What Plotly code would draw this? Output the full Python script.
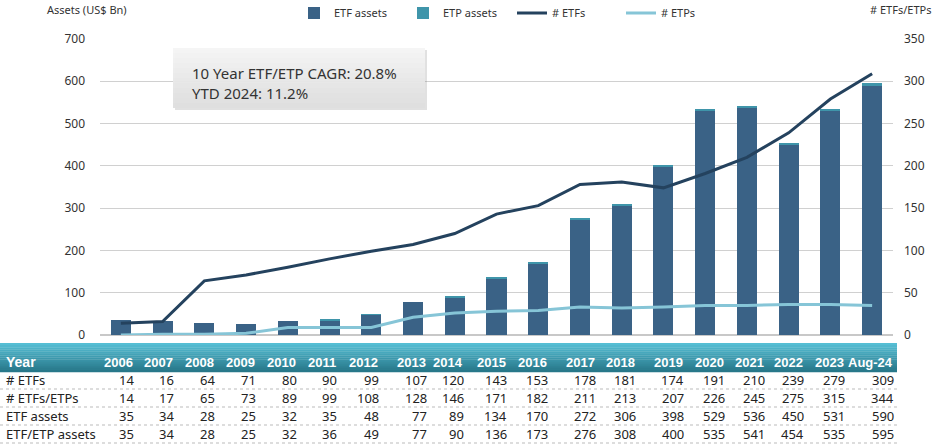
import plotly.graph_objects as go

years = ["2006", "2007", "2008", "2009", "2010", "2011", "2012", "2013", "2014", "2015",
         "2016", "2017", "2018", "2019", "2020", "2021", "2022", "2023", "Aug-24"]
n_etfs = [14, 16, 64, 71, 80, 90, 99, 107, 120, 143, 153, 178, 181, 174, 191, 210, 239, 279, 309]
n_etfs_etps = [14, 17, 65, 73, 89, 99, 108, 128, 146, 171, 182, 211, 213, 207, 226, 245, 275, 315, 344]
etf_assets = [35, 34, 28, 25, 32, 35, 48, 77, 89, 134, 170, 272, 306, 398, 529, 536, 450, 531, 590]
etf_etp_assets = [35, 34, 28, 25, 32, 36, 49, 77, 90, 136, 173, 276, 308, 400, 535, 541, 454, 535, 595]

n_etps = [b - a for a, b in zip(n_etfs, n_etfs_etps)]
etp_assets = [b - a for a, b in zip(etf_assets, etf_etp_assets)]

W, H = 939, 448
L, R, T, B = 100, 46, 39, 113
PW, PH = W - L - R, H - T - B

# table layout: right edge (px) of each column of the data table
col_right_px = [135, 175, 216, 257, 298, 338, 380, 428, 465, 508,
                549, 597, 637, 685, 726, 766, 805, 846, 895]

def px_x(x):
    return (x - L) / PW

def px_y(y):
    return (H - B - y) / PH

FONT = "Noto Sans"
HFONT = "Liberation Sans"
C_ETF = "#3a6286"
C_ETP = "#3f95aa"
C_LINE1 = "#24425e"
C_LINE2 = "#86c5d7"

fig = go.Figure()
fig.add_trace(go.Bar(x=years, y=etf_assets, name="ETF assets", marker=dict(color=C_ETF, line=dict(width=0))))
fig.add_trace(go.Bar(x=years, y=etp_assets, name="ETP assets", marker=dict(color=C_ETP, line=dict(width=0))))
fig.add_trace(go.Scatter(x=years, y=n_etfs, name="# ETFs", mode="lines", yaxis="y2",
                         line=dict(color=C_LINE1, width=3)))
fig.add_trace(go.Scatter(x=years, y=n_etps, name="# ETPs", mode="lines", yaxis="y2",
                         line=dict(color=C_LINE2, width=3)))

shapes = []
annotations = []

# CAGR box
shapes.append(dict(type="rect", xref="paper", yref="paper",
                   x0=px_x(175), x1=px_x(427), y0=px_y(110), y1=px_y(50),
                   fillcolor="rgba(120,120,120,0.22)", line=dict(width=0), layer="above"))
nstrip = 12
for i in range(nstrip):
    y0 = 48 + i * 60 / nstrip
    y1 = 48 + (i + 1) * 60 / nstrip
    g = int(244 - (244 - 222) * i / (nstrip - 1))
    shapes.append(dict(type="rect", xref="paper", yref="paper",
                       x0=px_x(173), x1=px_x(425), y0=px_y(y1), y1=px_y(y0),
                       fillcolor=f"rgba({g},{g},{g},0.95)", line=dict(width=0), layer="above"))
annotations.append(dict(text="10 Year ETF/ETP CAGR: 20.8%", xref="paper", yref="paper",
                        x=px_x(190), y=px_y(73), xanchor="left", yanchor="middle", showarrow=False,
                        font=dict(family=FONT, size=15, color="#333333")))
annotations.append(dict(text="YTD 2024: 11.2%", xref="paper", yref="paper",
                        x=px_x(190), y=px_y(93), xanchor="left", yanchor="middle", showarrow=False,
                        font=dict(family=FONT, size=15, color="#333333")))

# Table header gradient band
hdr_top, hdr_bot = 343, 372
nstrip = 14
c_top = (86, 190, 212)
c_bot = (40, 120, 138)
for i in range(nstrip):
    y0 = hdr_top + i * (hdr_bot - hdr_top) / nstrip
    y1 = hdr_top + (i + 1) * (hdr_bot - hdr_top) / nstrip
    f = i / (nstrip - 1)
    c = tuple(int(c_top[k] + (c_bot[k] - c_top[k]) * f) for k in range(3))
    shapes.append(dict(type="rect", xref="paper", yref="paper",
                       x0=px_x(0), x1=px_x(897), y0=px_y(y1 + 0.3), y1=px_y(y0),
                       fillcolor=f"rgb{c}", line=dict(width=0), layer="above"))

annotations.append(dict(text="<b>Year</b>", xref="paper", yref="paper", x=px_x(4), y=px_y(362),
                        xanchor="left", yanchor="middle", showarrow=False,
                        font=dict(family=HFONT, size=14, color="white")))
for yr, cx in zip(years, col_right_px):
    annotations.append(dict(text=f"<b>{yr}</b>", xref="paper", yref="paper", x=px_x(cx), y=px_y(362),
                            xanchor="right", yanchor="middle", showarrow=False,
                            font=dict(family=HFONT, size=13, color="white")))

rows = [("# ETFs", n_etfs), ("# ETFs/ETPs", n_etfs_etps),
        ("ETF assets", etf_assets), ("ETF/ETP assets", etf_etp_assets)]
row_y = [380, 398, 416, 434]
for (label, vals), ry in zip(rows, row_y):
    annotations.append(dict(text=label, xref="paper", yref="paper", x=px_x(4), y=px_y(ry),
                            xanchor="left", yanchor="middle", showarrow=False,
                            font=dict(family=FONT, size=13, color="#222222")))
    for v, cx in zip(vals, col_right_px):
        annotations.append(dict(text=str(v), xref="paper", yref="paper", x=px_x(cx + 1), y=px_y(ry),
                                xanchor="right", yanchor="middle", showarrow=False,
                                font=dict(family=FONT, size=13, color="#222222")))
    shapes.append(dict(type="line", xref="paper", yref="paper", x0=px_x(0), x1=px_x(897),
                       y0=px_y(ry + 9), y1=px_y(ry + 9),
                       line=dict(color="#bbbbbb", width=1, dash="dot"), layer="above"))

# axis titles
annotations.append(dict(text="Assets (US$ Bn)", xref="paper", yref="paper", x=px_x(45), y=px_y(10),
                        xanchor="left", yanchor="middle", showarrow=False,
                        font=dict(family=FONT, size=11, color="#333333")))
annotations.append(dict(text="# ETFs/ETPs", xref="paper", yref="paper", x=px_x(933), y=px_y(10),
                        xanchor="right", yanchor="middle", showarrow=False,
                        font=dict(family=FONT, size=11, color="#333333")))

fig.update_layout(
    width=W, height=H,
    margin=dict(l=L, r=R, t=T, b=B, autoexpand=False),
    paper_bgcolor="white", plot_bgcolor="white",
    barmode="stack", bargap=0.52,
    font=dict(family=FONT, size=12, color="#333333"),
    xaxis=dict(showticklabels=False, showgrid=False, zeroline=False, showline=False,
               ticks="", range=[-0.5, 18.5]),
    yaxis=dict(range=[0, 700], dtick=100, showgrid=True, gridcolor="#d0d0d0", gridwidth=1,
               zeroline=True, zerolinecolor="#c8c8c8", showline=False, ticks="",
               tickfont=dict(family=FONT, size=12, color="#333333"), ticklabelstandoff=14),
    yaxis2=dict(range=[0, 350], dtick=50, overlaying="y", side="right", showgrid=False,
                zeroline=False, showline=False, ticks="",
                tickfont=dict(family=FONT, size=12, color="#333333"), ticklabelstandoff=10),
    legend=dict(orientation="h", x=px_x(294), y=px_y(13), xanchor="left", yanchor="middle",
                font=dict(family=FONT, size=11, color="#333333"), bgcolor="rgba(0,0,0,0)",
                traceorder="normal", itemwidth=30, entrywidth=64, entrywidthmode="pixels"),
    shapes=shapes,
    annotations=annotations,
    showlegend=True,
)

fig.write_html("out.html")
